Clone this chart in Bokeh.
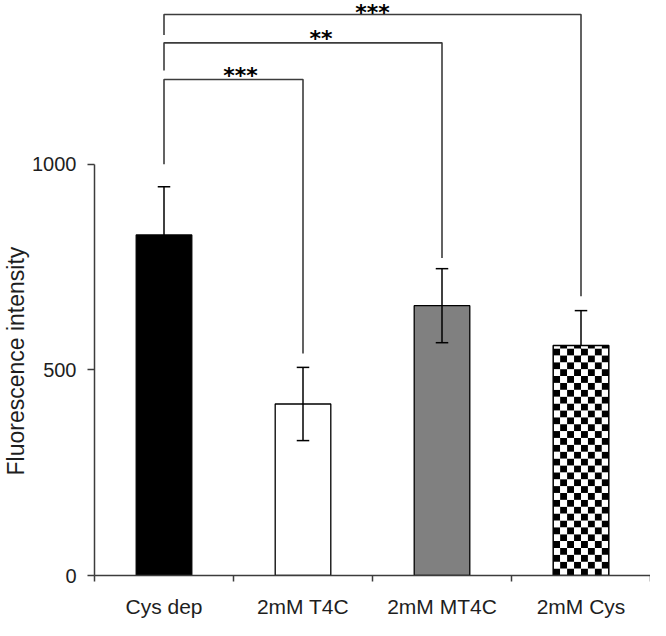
import numpy as np
from bokeh.plotting import figure
from bokeh.models import FixedTicker, Range1d, Title
from bokeh.core.properties import value
from bokeh.embed import file_html
from bokeh.resources import INLINE

# ---- data ----
categories = ["Cys dep", "2mM T4C", "2mM MT4C", "2mM Cys"]
means = [828, 417, 656, 559]
errors = [117, 89, 90, 85]
bar_fills = ["#000000", "#ffffff", "#808080"]   # first three bars; last bar is checkered

# significance brackets: Cys dep (index 0) compared with index j
bracket_to = [1, 2, 3]
bracket_y = [1206, 1295, 1364]
bracket_left_bottom = [1000, 1228, 1314]
bracket_right_bottom = [540, 772, 679]
bracket_stars = ["***", "**", "***"]
star_x = [0.55, 1.13, 1.5]
star_y = [1216, 1305, 1370]

y_ticks = [0, 500, 1000]

# ---- geometry ----
W, H = 650, 620
BL, BB = 92, 37
Y_END = 1398
frame_w = W - BL
frame_h = H - BB
BAR_W = 0.4

FONT = "Liberation Sans"
TXT = "#1e1e1e"
LINE = "#3c3c3c"

p = figure(width=W, height=H, x_range=Range1d(-0.5, 3.5), y_range=Range1d(0, Y_END),
           output_backend="svg", toolbar_location=None,
           min_border_left=BL, min_border_right=0, min_border_top=0, min_border_bottom=BB)
p.outline_line_color = None
p.grid.visible = False
p.background_fill_color = "white"
p.border_fill_color = "white"

idx = list(range(len(categories)))

# solid bars
p.vbar(x=idx[:3], top=means[:3], width=BAR_W, bottom=0,
       fill_color=bar_fills, line_color="black", line_width=1.3)

# error bars
cap = 0.045
lo = [m - e for m, e in zip(means, errors)]
hi = [m + e for m, e in zip(means, errors)]
p.segment(x0=idx, y0=lo, x1=idx, y1=hi, line_color="black", line_width=1.5)
p.segment(x0=[i - cap for i in idx], y0=hi, x1=[i + cap for i in idx], y1=hi, line_color="black", line_width=1.5)
p.segment(x0=[i - cap for i in idx], y0=lo, x1=[i + cap for i in idx], y1=lo, line_color="black", line_width=1.5)

# checker pattern for the last bar (covers its lower whisker, as in the original)
ncol = 8
cw = BAR_W / ncol
px_x = frame_w / 4.0
px_y = frame_h / Y_END
ch = cw * px_x / px_y
nrow = int(np.ceil(means[3] / ch))
L, R, B, T, C = [], [], [], [], []
for r in range(nrow):
    for c in range(ncol):
        L.append(idx[3] - BAR_W / 2 + c * cw)
        R.append(idx[3] - BAR_W / 2 + (c + 1) * cw)
        B.append(r * ch)
        T.append(min((r + 1) * ch, means[3]))
        C.append("black" if (r + c) % 2 == (nrow % 2) else "white")
p.quad(left=L, right=R, bottom=B, top=T, fill_color=C, line_color=None)
p.vbar(x=[idx[3]], top=[means[3]], width=BAR_W, bottom=0, fill_color=None,
       line_color="black", line_width=1.5)

# brackets
xs = [[0, 0, j, j] for j in bracket_to]
ys = [[lb, y, y, rb] for lb, y, rb in zip(bracket_left_bottom, bracket_y, bracket_right_bottom)]
p.multi_line(xs=xs, ys=ys, line_color=LINE, line_width=1.6)
p.text(x=star_x, y=star_y, text=bracket_stars, text_font=value("DejaVu Sans"),
       text_font_size="22px", text_font_style="bold", text_align="center",
       text_baseline="middle", text_color="#000000")

# y axis
ya = p.yaxis[0]
ya.ticker = FixedTicker(ticks=y_ticks, minor_ticks=[])
ya.bounds = (0, 1000)
ya.axis_line_color = LINE
ya.axis_line_width = 1.5
ya.major_tick_line_color = LINE
ya.major_tick_line_width = 1.5
ya.major_tick_out = 7
ya.major_tick_in = 0
ya.minor_tick_line_color = None
ya.major_label_standoff = 11
ya.major_label_text_font = FONT
ya.major_label_text_font_size = "20px"
ya.major_label_text_color = TXT

# y axis title, starting just above the bottom of the axis (as in the original)
p.add_layout(Title(text="Fluorescence intensity", align="left", offset=100, standoff=1,
                   text_font=FONT, text_font_size="23px", text_font_style="normal",
                   text_color=TXT), "left")

# x axis
xa = p.xaxis[0]
xa.ticker = FixedTicker(ticks=idx, minor_ticks=[-0.5, 0.5, 1.5, 2.5, 3.5])
xa.bounds = (-0.5, 3.5)
xa.axis_line_color = LINE
xa.axis_line_width = 1.5
xa.major_tick_out = 0
xa.major_tick_in = 0
xa.major_tick_line_color = None
xa.minor_tick_line_color = LINE
xa.minor_tick_line_width = 1.5
xa.minor_tick_out = 6
xa.minor_tick_in = 0
xa.major_label_overrides = {i: c for i, c in zip(idx, categories)}
xa.major_label_standoff = 13
xa.major_label_text_font = FONT
xa.major_label_text_font_size = "21px"
xa.major_label_text_color = TXT

open("out.html", "w").write(file_html(p, INLINE))
